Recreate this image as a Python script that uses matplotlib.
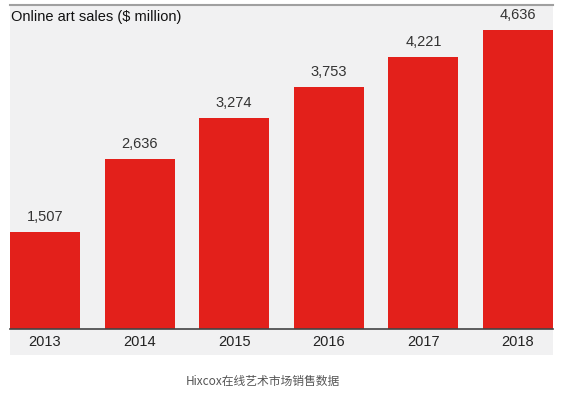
import matplotlib
matplotlib.use("Agg")
import matplotlib.pyplot as plt
from matplotlib.patches import Rectangle
from matplotlib.lines import Line2D

years = ["2013", "2014", "2015", "2016", "2017", "2018"]
sales = [1507, 2636, 3274, 3753, 4221, 4636]
title = "Online art sales ($ million)"
caption = "Hixcox在线艺术市场销售数据"

W, H = 561, 397
fig = plt.figure(figsize=(W / 100, H / 100), dpi=100)
fig.patch.set_facecolor("white")

# panel background and top rule (pixel coords converted to figure fraction)
px_l, px_r, px_t, px_b = 10, 553, 5, 355
fig.patches.append(Rectangle((px_l / W, 1 - px_b / H), (px_r - px_l) / W, (px_b - px_t) / H,
                             transform=fig.transFigure, facecolor="#f1f1f2", edgecolor="none", zorder=-10))
fig.lines.append(Line2D([px_l / W, px_r / W], [1 - px_t / H, 1 - px_t / H],
                        transform=fig.transFigure, color="#a0a0a0", lw=1.5, zorder=-5))

base = 329
ax = fig.add_axes([px_l / W, 1 - base / H, (px_r - px_l) / W, (base - px_t) / H])
ax.set_facecolor("none")
x = range(len(years))
ax.bar(x, sales, width=0.74, color="#e3201b")
ax.set_xlim(-0.37, len(years) - 1 + 0.37)
ax.set_ylim(0, 5023)
for i, v in zip(x, sales):
    ax.text(i, v + 120, f"{v:,}", ha="center", va="bottom", fontsize=10.5,
            color="#333333", family="Liberation Sans")
for s in ["top", "right", "left"]:
    ax.spines[s].set_visible(False)
ax.spines["bottom"].set_color("#444444")
ax.spines["bottom"].set_linewidth(1.2)
ax.set_yticks([])
ax.set_xticks(list(x))
ax.set_xticklabels(years, fontsize=10.5, color="#222222", family="Liberation Sans")
ax.tick_params(axis="x", length=0, pad=4)

fig.text(11 / W, 1 - 17 / H, title, ha="left", va="center", fontsize=10.5,
         color="#111111", family="Liberation Sans")
fig.text(263 / W, 1 - 381 / H, caption, ha="center", va="center", fontsize=8.5,
         color="#555555", family=["Noto Sans CJK SC", "DejaVu Sans"])

fig.savefig("out.png", dpi=100)
